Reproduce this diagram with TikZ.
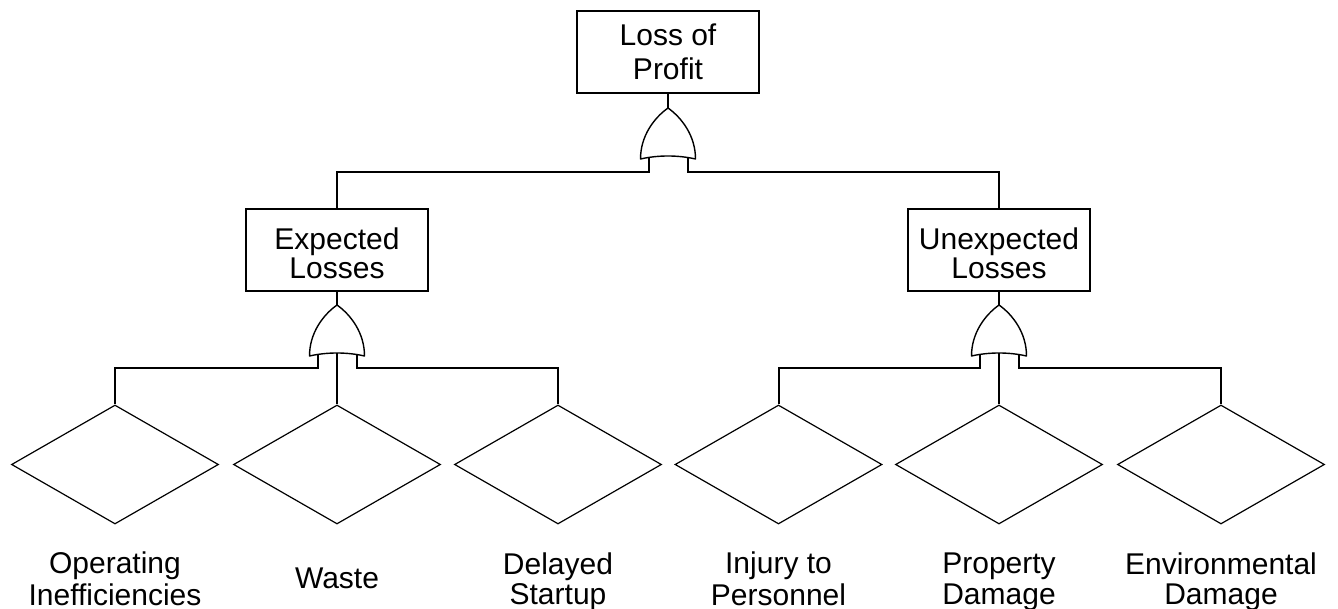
\documentclass[tikz,border=0pt]{standalone}
\usepackage{fontspec}
\setmainfont{Liberation Sans}
\usetikzlibrary{shapes.geometric}
\newcommand\lstrut{\rule[-8.7pt]{0pt}{29pt}}
\newcommand\orgate[2]{%
  \begin{scope}[shift={#2}]
    \draw[gate] (0,0) .. controls (-14,10) and (-27.5,28) .. (-27.5,51)
      .. controls (-10,47) and (10,47) .. (27.5,51)
      .. controls (27.5,28) and (14,10) .. (0,0) -- cycle;
    \coordinate (#1-in) at (0,0);
    \coordinate (#1-l) at (-19.5,49.3);
    \coordinate (#1-r) at (19.5,49.3);
    \coordinate (#1-m) at (0,48);
  \end{scope}}
\begin{document}
\begin{tikzpicture}[x=1pt,y=-1pt,
  every node/.style={font=\fontsize{30}{29}\selectfont},
  evbox/.style={draw, line width=2pt, minimum width=182pt, minimum height=82pt, inner sep=0pt, align=center},
  basic/.style={draw, diamond, line width=1.2pt, minimum width=207pt, minimum height=119pt, inner sep=0pt},
  lbl/.style={align=center, inner sep=0pt},
  conn/.style={line width=2pt},
  gate/.style={line width=1.4pt, line join=round}]
\useasboundingbox (0,0) rectangle (1338,609);

% events
\node[evbox] (top) at (668,52) {\rule{0pt}{20pt}Loss of\\[5pt]Profit};
\node[evbox] (exp) at (337,250) {\rule{0pt}{29pt}Expected\\Losses};
\node[evbox] (unx) at (999,250) {\rule{0pt}{29pt}Unexpected\\Losses};

% gates
\orgate{g0}{(668,108)}
\orgate{g1}{(337,305)}
\orgate{g2}{(999,305)}

% basic events
\node[basic] (d1) at (115,464.5) {};
\node[basic] (d2) at (337,464.5) {};
\node[basic] (d3) at (558,464.5) {};
\node[basic] (d4) at (778.5,464.5) {};
\node[basic] (d5) at (999,464.5) {};
\node[basic] (d6) at (1221,464.5) {};

% labels
\node[lbl] (l1) at (115,583) {Operating\lstrut\\Inefficiencies\lstrut};
\node[lbl] (l2) at (337,583) {Waste\lstrut};
\node[lbl] (l3) at (558,583) {Delayed\lstrut\\Startup\lstrut};
\node[lbl] (l4) at (778.5,583) {Injury to\lstrut\\Personnel\lstrut};
\node[lbl] (l5) at (999,583) {Property\lstrut\\Damage\lstrut};
\node[lbl] (l6) at (1221,583) {Environmental\lstrut\\Damage\lstrut};

% buses
\coordinate (bus0) at (0,172);
\coordinate (bus1) at (0,368);

% connectors
\draw[conn] (top.south) -- (g0-in);
\draw[conn] (g0-l) -- (g0-l |- bus0) -| (exp.north);
\draw[conn] (g0-r) -- (g0-r |- bus0) -| (unx.north);

\draw[conn] (exp.south) -- (g1-in);
\draw[conn] (g1-l) -- (g1-l |- bus1) -| (d1.north);
\draw[conn] (g1-m) -- (d2.north);
\draw[conn] (g1-r) -- (g1-r |- bus1) -| (d3.north);

\draw[conn] (unx.south) -- (g2-in);
\draw[conn] (g2-l) -- (g2-l |- bus1) -| (d4.north);
\draw[conn] (g2-m) -- (d5.north);
\draw[conn] (g2-r) -- (g2-r |- bus1) -| (d6.north);
\end{tikzpicture}
\end{document}
